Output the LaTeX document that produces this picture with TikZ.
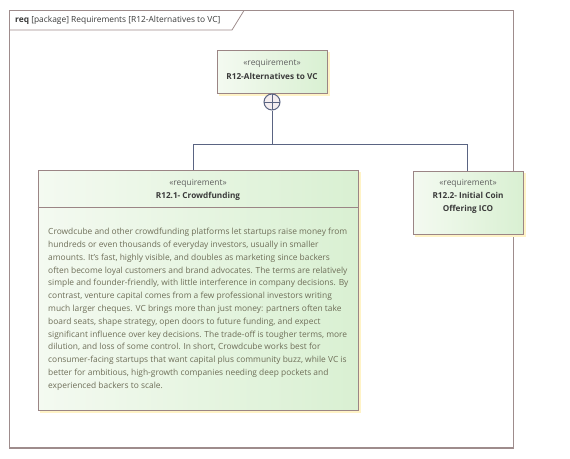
\documentclass[tikz,border=0pt]{standalone}
\usepackage{fontspec}
\setmainfont{Open Sans}
\definecolor{frameC}{HTML}{9E8C8C}
\definecolor{boxC}{HTML}{9B8585}
\definecolor{fillL}{HTML}{F4FAF1}
\definecolor{fillR}{HTML}{D9F0D2}
\definecolor{shadowC}{HTML}{FFF3C6}
\definecolor{connC}{HTML}{5A6482}
\definecolor{titleC}{HTML}{3A3A3A}
\definecolor{stereoC}{HTML}{5E5E5E}
\definecolor{bodyC}{HTML}{6E6E58}
\definecolor{circC}{HTML}{F4EEF0}
\tikzset{
  reqbox/.style={draw=boxC, line width=0.9pt, left color=fillL, right color=fillR, rectangle, inner sep=0pt},
  conn/.style={draw=connC, line width=1pt},
  txt/.style={inner sep=0pt, font=\fontsize{8.4}{12.8}\selectfont},
  ttl/.style={inner sep=0pt, font=\fontsize{8.2}{13}\selectfont\bfseries},
}
\begin{document}
\begin{tikzpicture}[x=1pt,y=-1pt]
\useasboundingbox (0,0) rectangle (570,458);
% frame
\draw[draw=frameC, line width=1.6pt] (9.5,10.5) rectangle (513.5,448);
\draw[draw=frameC, line width=0.8pt] (9.5,30) -- (232,30) -- (244,10.5);
\node[txt, anchor=west, text=titleC] (flabel) at (15,20) {\textbf{req} [package] Requirements [R12-Alternatives to VC]};
% shadows
\fill[shadowC] (219,52) rectangle (329.5,95.5);
\fill[shadowC] (40,172) rectangle (360.5,412.5);
\fill[shadowC] (415,173) rectangle (525.5,236.5);
% boxes
\node[reqbox, minimum width=110pt, minimum height=43pt] (top) at (272,71.5) {};
\node[reqbox, minimum width=320pt, minimum height=240pt] (cf) at (198,290) {};
\node[reqbox, minimum width=110pt, minimum height=63pt] (ico) at (468,202.5) {};
\draw[draw=boxC, line width=0.9pt] (cf.west |- 0,207) -- (cf.east |- 0,207);
% texts
\node[txt, text=stereoC] (ts) at (272,63) {«requirement»};
\node[ttl, text=titleC] (tt) at (272,76) {R12-Alternatives to VC};
\node[txt, text=stereoC] (cs) at (198,183) {«requirement»};
\node[ttl, text=titleC] (ct) at (198,196) {R12.1- Crowdfunding};
\node[txt, text=stereoC] (is) at (468,183) {«requirement»};
\node[ttl, text=titleC, align=center] (it) at (468,202.5) {R12.2- Initial Coin\\Offering ICO};
\node[txt, text=bodyC, align=left, anchor=north west] (body) at (48,228) {Crowdcube and other crowdfunding platforms let startups raise money from\\
hundreds or even thousands of everyday investors, usually in smaller\\
amounts. It’s fast, highly visible, and doubles as marketing since backers\\
often become loyal customers and brand advocates. The terms are relatively\\
simple and founder-friendly, with little interference in company decisions. By\\
contrast, venture capital comes from a few professional investors writing\\
much larger cheques. VC brings more than just money: partners often take\\
board seats, shape strategy, open doors to future funding, and expect\\
significant influence over key decisions. The trade-off is tougher terms, more\\
dilution, and loss of some control. In short, Crowdcube works best for\\
consumer-facing startups that want capital plus community buzz, while VC is\\
better for ambitious, high-growth companies needing deep pockets and\\
experienced backers to scale.};
% connectors
\node[circle, draw=connC, fill=circC, line width=1pt, minimum size=16pt, inner sep=0pt,
  path picture={\draw[connC, line width=0.8pt] (path picture bounding box.north) -- (path picture bounding box.south) (path picture bounding box.west) -- (path picture bounding box.east);}] (plus) at (272,102) {};
\coordinate (j) at (272,144);
\coordinate (cfin) at (193,170);
\draw[conn] (plus.south) -- (j);
\draw[conn] (j) -| (cfin);
\draw[conn] (j) -| (ico.north -| 467,0);
\end{tikzpicture}
\end{document}
